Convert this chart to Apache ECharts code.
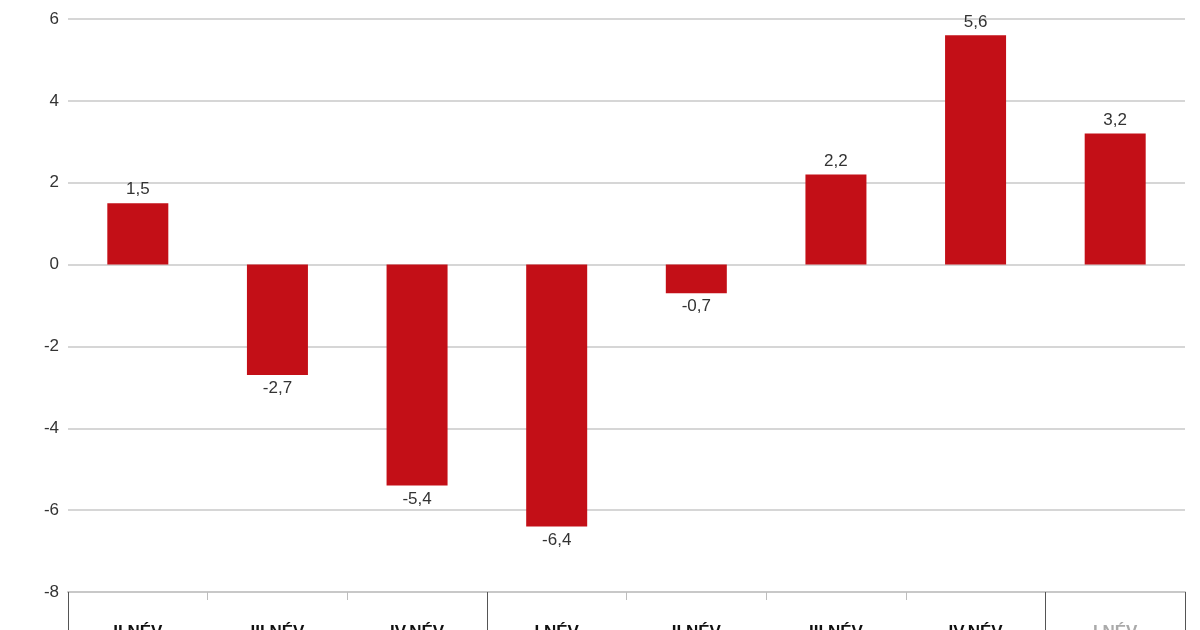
<!DOCTYPE html>
<html>
<head>
<meta charset="utf-8">
<script src="https://cdn.jsdelivr.net/npm/echarts@6/dist/echarts.min.js"></script>
<style>
html,body{margin:0;padding:0;background:#fff;}
#c{width:1200px;height:630px;}
</style>
</head>
<body>
<div id="c"></div>
<script>
var categories = ["II.NÉV", "III.NÉV", "IV.NÉV", "I.NÉV", "II.NÉV", "III.NÉV", "IV.NÉV", "I.NÉV"];
var values = [1.5, -2.7, -5.4, -6.4, -0.7, 2.2, 5.6, 3.2];
var yTicks = { min: -8, max: 6, interval: 2 };
var groupStarts = [0, 3, 7];

var chart = echarts.init(document.getElementById('c'), null, { renderer: 'canvas' });
var font = '"Liberation Sans", Arial, sans-serif';

chart.setOption({
  animation: false,
  backgroundColor: '#ffffff',
  grid: { left: 68, right: 15, top: 19, bottom: 38, containLabel: false, outerBoundsMode: 'none' },
  xAxis: [{
    type: 'category',
    data: categories,
    boundaryGap: true,
    axisLine: { show: true, onZero: false, lineStyle: { color: '#c8c8c8', width: 2 } },
    axisTick: { show: true, length: 8, lineStyle: { color: '#bdbdbd', width: 1 } },
    axisLabel: {
      margin: 32,
      fontFamily: font, fontSize: 17, fontWeight: 'bold',
      color: function (v, i) { return i === categories.length - 1 ? '#aaaaaa' : '#111111'; }
    },
    splitLine: { show: false }
  }, {
    type: 'category',
    data: categories,
    boundaryGap: true,
    position: 'bottom',
    axisLine: { show: false, onZero: false },
    axisTick: {
      show: true, length: 45,
      interval: function (i) { return groupStarts.indexOf(i) >= 0; },
      lineStyle: { color: '#555555', width: 1 }
    },
    axisLabel: { show: false },
    splitLine: { show: false }
  }],
  yAxis: {
    type: 'value',
    min: yTicks.min, max: yTicks.max, interval: yTicks.interval,
    axisLine: { show: false },
    axisTick: { show: false },
    axisLabel: { margin: 9, fontFamily: font, fontSize: 17, color: '#333333', padding: [0, 0, 7, 0] },
    splitLine: { lineStyle: { color: '#d6d6d6', width: 2 } }
  },
  series: [{
    type: 'bar',
    xAxisIndex: 0,
    barWidth: 61,
    itemStyle: { color: '#c30f17' },
    data: values.map(function (v) {
      return {
        value: v,
        label: { position: v < 0 ? 'bottom' : 'top' }
      };
    }),
    label: {
      show: true,
      distance: 5,
      fontFamily: font, fontSize: 17, color: '#333333',
      formatter: function (p) { return String(p.value).replace('.', ','); }
    }
  }]
});
</script>
</body>
</html>
